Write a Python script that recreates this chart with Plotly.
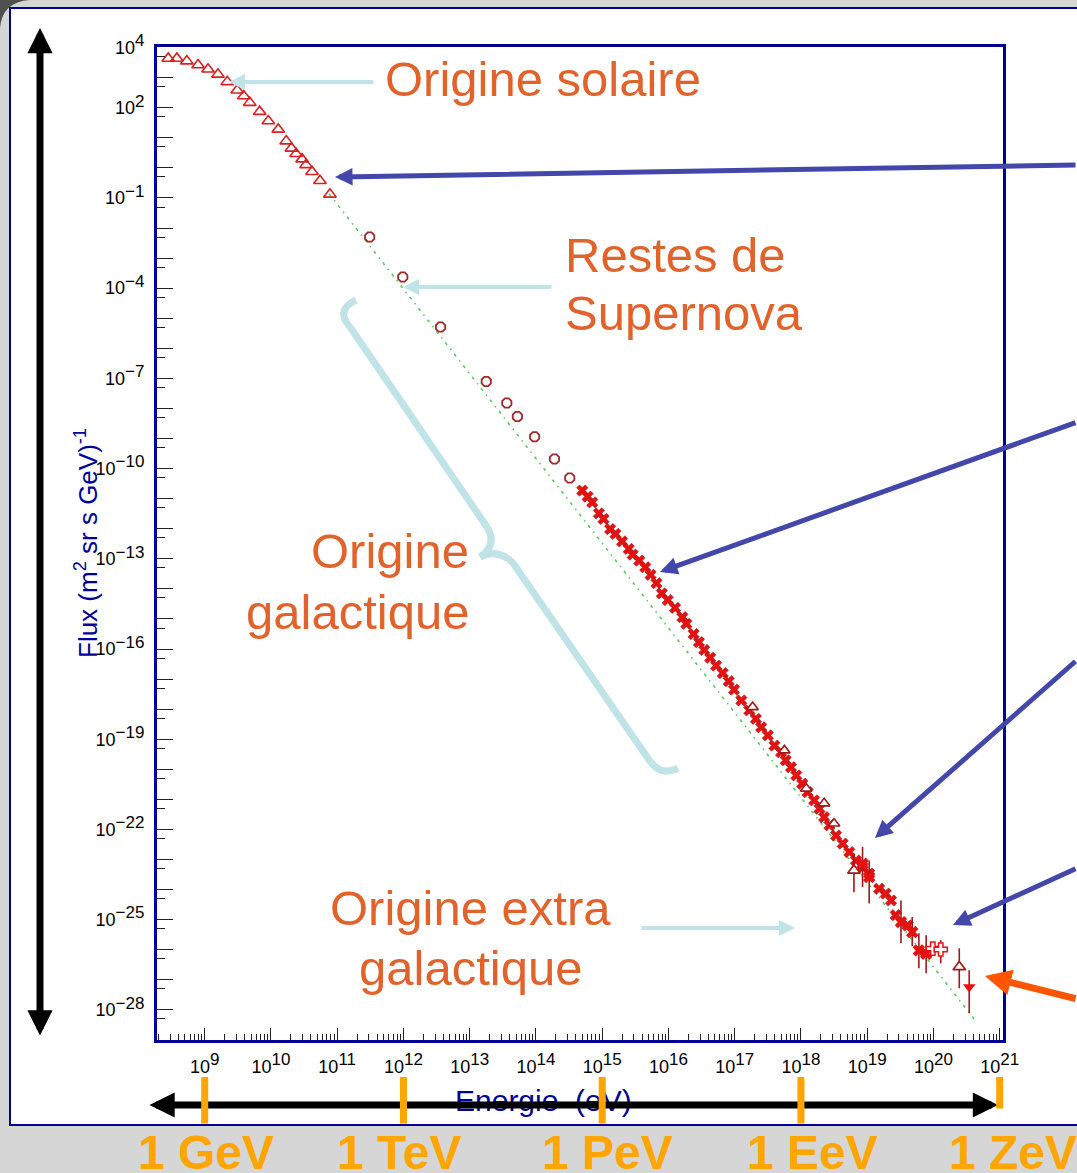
import math
import plotly.graph_objects as go

# ---------------- data (log10 values) ----------------
tri_logE = [8.45, 8.58, 8.73, 8.90, 9.05, 9.20, 9.34, 9.49, 9.59, 9.68, 9.83, 9.96,
            10.11, 10.23, 10.31, 10.38, 10.47, 10.53, 10.62, 10.74, 10.89]
tri_logF = [3.64, 3.64, 3.55, 3.42, 3.28, 3.11, 2.86, 2.58, 2.39, 2.17, 1.87, 1.56,
            1.28, 0.89, 0.65, 0.47, 0.29, 0.10, -0.13, -0.43, -0.88]

dia_logE = [11.49, 11.99, 12.56, 13.25, 13.56, 13.72, 13.98, 14.28, 14.51]
dia_logF = [-2.30, -3.63, -5.29, -7.10, -7.82, -8.27, -8.94, -9.68, -10.31]

ast_logE = [14.70, 14.78, 14.85, 14.95, 15.02, 15.12, 15.20, 15.30, 15.40, 15.46,
            15.56, 15.65, 15.73, 15.82, 15.90, 15.99, 16.10, 16.21, 16.27, 16.38,
            16.46, 16.54, 16.63, 16.72, 16.82, 16.91, 16.99, 17.10, 17.22, 17.32,
            17.40, 17.50, 17.60, 17.70, 17.77, 17.85, 17.93, 18.02, 18.10, 18.20,
            18.28, 18.35, 18.43, 18.53, 18.63, 18.73, 18.83, 18.93, 19.03, 19.18,
            19.28, 19.36, 19.43, 19.61]
ast_logF = [-10.73, -10.93, -11.12, -11.49, -11.67, -12.01, -12.17, -12.42, -12.67, -12.86,
            -13.06, -13.28, -13.53, -13.81, -14.15, -14.37, -14.63, -14.94, -15.16, -15.50,
            -15.77, -16.03, -16.29, -16.55, -16.80, -17.07, -17.35, -17.71, -18.04, -18.32,
            -18.60, -18.87, -19.21, -19.43, -19.70, -19.93, -20.20, -20.48, -20.76, -21.03,
            -21.31, -21.59, -21.86, -22.20, -22.47, -22.75, -23.03, -23.25, -23.47, -23.97,
            -24.13, -24.36, -24.85, -25.19]

band_logE = [17.27, 17.75, 18.08, 18.35, 18.50]
band_logF = [-17.93, -19.37, -20.64, -21.13, -21.80]

eb_logE = [18.93, 19.03, 19.51, 19.68, 19.78, 19.89]
eb_logF = [-23.14, -23.58, -25.08, -25.41, -26.02, -26.13]
eb_top = [-22.58, -23.03, -24.36, -24.91, -25.45, -25.52]
eb_bot = [-23.91, -24.46, -25.78, -25.88, -26.61, -26.78]

otri_logE = [18.80, 20.39]
otri_logF = [-23.36, -26.57]
otri_top = [-22.79, -25.95]
otri_bot = [-24.09, -27.28]

cross_logE = [19.99, 20.11]
cross_logF = [-25.96, -25.99]
cross_top = [-25.96, -25.68]
cross_bot = [-25.96, -26.45]

dtri_logE = [20.54]
dtri_logF = [-27.24]
dtri_top = [-26.68]
dtri_bot = [-28.11]

green_logE = [10.88, 20.65]
green_logF = [-0.87, -28.40]

x_tick_exp = [9, 10, 11, 12, 13, 14, 15, 16, 17, 18, 19, 20, 21]
y_tick_exp = list(range(4, -30, -1))
y_label_exp = [4, 2, -1, -4, -7, -10, -13, -16, -19, -22, -25, -28]

scale_names = ["1 GeV", "1 TeV", "1 PeV", "1 EeV", "1 ZeV"]
scale_E = [1e9, 1e12, 1e15, 1e18, 1e21]

# ---------------- layout helpers ----------------
W, H = 1077, 1173
L, R, T, B = 157, 74, 47, 133
XR = [8.28, 21.05]
YR = [-29.0, 4.02]


def px(x):
    return (x - L) / (W - L - R)


def py(y):
    return (H - B - y) / (H - T - B)


def e2pix(e):
    return L + (math.log10(e) - XR[0]) / (XR[1] - XR[0]) * (W - L - R)


def p10(v):
    return [10.0 ** a for a in v]


def errs(F, top, bot):
    plus = [10.0 ** t - 10.0 ** f for f, t in zip(F, top)]
    minus = [10.0 ** f - 10.0 ** b for f, b in zip(F, bot)]
    return plus, minus


RED = "#e81010"
DARKRED = "#a01818"
NAVY = "#000099"
ORANGE_TXT = "#E2622B"
ORANGE = "#FFA500"
CYAN = "#BFE3E6"
BLUE = "#4347AA"
FONT = "Liberation Sans, Arial, sans-serif"

fig = go.Figure()

fig.add_trace(go.Scatter(x=p10(green_logE), y=p10(green_logF), mode="lines",
                         line=dict(color="#55cc55", width=1.6, dash="3px,5px,1.5px,5px"),
                         hoverinfo="skip"))

fig.add_trace(go.Scatter(x=p10(tri_logE), y=p10(tri_logF), mode="markers",
                         marker=dict(symbol="triangle-up-open", size=11, color="#d82020",
                                     line=dict(width=1.6))))

fig.add_trace(go.Scatter(x=p10(dia_logE), y=p10(dia_logF), mode="markers",
                         marker=dict(symbol="octagon-open", size=10, color="#a02828",
                                     line=dict(width=1.8))))

fig.add_trace(go.Scatter(x=p10(ast_logE), y=p10(ast_logF), mode="markers",
                         marker=dict(symbol="x", size=10, color=RED,
                                     line=dict(width=0.6, color=DARKRED))))

fig.add_trace(go.Scatter(x=p10(band_logE), y=p10(band_logF), mode="markers",
                         marker=dict(symbol="triangle-up", size=10, color="white",
                                     line=dict(width=1.6, color=DARKRED))))

p, m = errs(eb_logF, eb_top, eb_bot)
fig.add_trace(go.Scatter(x=p10(eb_logE), y=p10(eb_logF), mode="markers",
                         marker=dict(symbol="x", size=11, color=RED),
                         error_y=dict(type="data", symmetric=False, array=p, arrayminus=m,
                                      color=DARKRED, thickness=1.6, width=0)))

p, m = errs(otri_logF, otri_top, otri_bot)
fig.add_trace(go.Scatter(x=p10(otri_logE), y=p10(otri_logF), mode="markers",
                         marker=dict(symbol="triangle-up", size=11, color="white",
                                     line=dict(width=1.6, color=DARKRED)),
                         error_y=dict(type="data", symmetric=False, array=p, arrayminus=m,
                                      color=DARKRED, thickness=1.6, width=0)))

p, m = errs(cross_logF, cross_top, cross_bot)
fig.add_trace(go.Scatter(x=p10(cross_logE), y=p10(cross_logF), mode="markers",
                         marker=dict(symbol="cross", size=11, color="white",
                                     line=dict(width=1.5, color=RED)),
                         error_y=dict(type="data", symmetric=False, array=p, arrayminus=m,
                                      color=DARKRED, thickness=1.6, width=0)))

p, m = errs(dtri_logF, dtri_top, dtri_bot)
fig.add_trace(go.Scatter(x=p10(dtri_logE), y=p10(dtri_logF), mode="markers",
                         marker=dict(symbol="triangle-down", size=11, color=RED),
                         error_y=dict(type="data", symmetric=False, array=p, arrayminus=m,
                                      color=DARKRED, thickness=1.6, width=0)))

# ---------------- axes ----------------
x_minor = [float(k) * 10.0 ** e for e in range(8, 22) for k in range(2, 10)]
y_minor = [5.0 * 10.0 ** e for e in range(-30, 5)]


def sup(e):
    return "10<sup><span style='font-size:17px'>%s</span></sup>" % str(e).replace("-", "\u2212")


fig.update_xaxes(type="log", range=XR, showgrid=False, zeroline=False,
                 showline=True, linecolor=NAVY, linewidth=3, mirror=True,
                 ticks="inside", ticklen=12, tickwidth=1.2, tickcolor="#222",
                 tickmode="array", tickvals=[10.0 ** e for e in x_tick_exp],
                 ticktext=[sup(e) for e in x_tick_exp],
                 tickfont=dict(family=FONT, size=18, color="black"),
                 ticklabelstandoff=8,
                 minor=dict(tickmode="array", tickvals=x_minor, ticks="inside",
                            ticklen=6, tickwidth=1, tickcolor="#222"))

fig.update_yaxes(type="log", range=YR, showgrid=False, zeroline=False,
                 showline=True, linecolor=NAVY, linewidth=3, mirror=True,
                 ticks="inside", ticklen=16, tickwidth=1.4, tickcolor="#222",
                 tickmode="array", tickvals=[10.0 ** e for e in y_tick_exp],
                 ticktext=[sup(e) if e in y_label_exp else "" for e in y_tick_exp],
                 tickfont=dict(family=FONT, size=18, color="black"),
                 ticklabelstandoff=6,
                 minor=dict(tickmode="array", tickvals=y_minor, ticks="inside",
                            ticklen=8, tickwidth=1.2, tickcolor="#222"))

# ---------------- decorations ----------------
shapes = []
# white slide panel
shapes.append(dict(type="rect", xref="paper", yref="paper", layer="below",
                   x0=px(10), x1=px(1085), y0=py(1125), y1=py(8),
                   fillcolor="white", line=dict(color=NAVY, width=2)))
# dark top-left corner
shapes.append(dict(type="path", xref="paper", yref="paper", layer="below",
                   path="M %f,%f L %f,%f Q %f,%f %f,%f Z" % (
                       px(0), py(0), px(30), py(0), px(2), py(2), px(0), py(28)),
                   fillcolor="#505050", line=dict(width=0)))
# curly brace
brace = [(356, 300), (335, 310), (350, 327), (487, 527), (498, 545), (480, 557),
         (498, 548), (513, 563), (647, 757), (660, 778), (678, 768)]
P = [(px(a), py(b)) for a, b in brace]
path = "M %f,%f Q %f,%f %f,%f L %f,%f Q %f,%f %f,%f Q %f,%f %f,%f L %f,%f Q %f,%f %f,%f" % tuple(
    v for pt in P for v in pt)
shapes.append(dict(type="path", xref="paper", yref="paper", layer="above",
                   path=path, line=dict(color=CYAN, width=7)))

annotations = []


def arrow(hx, hy, tx, ty, color, width, size, head=2, side="end"):
    annotations.append(dict(xref="paper", yref="paper", x=px(hx), y=py(hy),
                            ax=tx - hx, ay=ty - hy, text="", showarrow=True,
                            arrowhead=head, arrowsize=size, arrowwidth=width,
                            arrowcolor=color, arrowside=side, startarrowhead=head,
                            startarrowsize=size))


def text(x, y, s, size, color, xanchor="center", align="center", bold=False, yanchor="middle",
         angle=0):
    annotations.append(dict(xref="paper", yref="paper", x=px(x), y=py(y), text=s,
                            showarrow=False, xanchor=xanchor, yanchor=yanchor, align=align,
                            textangle=angle,
                            font=dict(family=FONT, size=size, color=color,
                                      weight="bold" if bold else "normal")))


# labels in orange
text(383, 79, "Origine solaire", 49, ORANGE_TXT, xanchor="left", align="left")
text(563, 255, "Restes de", 49, ORANGE_TXT, xanchor="left", align="left")
text(563, 313, "Supernova", 49, ORANGE_TXT, xanchor="left", align="left")
text(471, 551, "Origine", 49, ORANGE_TXT, xanchor="right", align="right")
text(471, 612, "galactique", 49, ORANGE_TXT, xanchor="right", align="right")
text(470, 908, "Origine extra", 49, ORANGE_TXT)
text(470, 968, "galactique", 49, ORANGE_TXT)

# axis titles
text(86, 543, "Flux (m<sup>2</sup> sr s GeV)<sup>-1</sup>", 26, NAVY, angle=-90)
text(543, 1100, "Energie  (eV)", 30, NAVY)

# cyan arrows
arrow(229, 82, 375, 82, CYAN, 4, 0.8)
arrow(403, 287, 553, 287, CYAN, 4, 0.8)
arrow(795, 928, 640, 928, CYAN, 4, 0.8)

# blue arrows
arrow(335, 177, 1085, 165, BLUE, 5, 0.7)
arrow(660, 572, 1085, 422, BLUE, 5, 0.7)
arrow(875, 838, 1085, 660, BLUE, 5, 0.7)
arrow(953, 925, 1085, 868, BLUE, 5, 0.7)
# orange-red arrow
arrow(985, 976, 1085, 999, "#FF5500", 7, 0.75)

# big black double arrows
arrow(40, 28, 40, 1037, "black", 7, 0.72, side="end+start")
arrow(998, 1105, 148, 1105, "black", 7, 0.72, side="end+start")

# orange scale bars and labels
label_x = [206, 399, 607, 812, 1013]
for i, (nm, e) in enumerate(zip(scale_names, scale_E)):
    xb = e2pix(e)
    yb = 1125 if i < 4 else 1110
    arrow(xb, 1077, xb, yb, ORANGE, 7, 1, head=0)
    text(label_x[i], 1152, nm, 48, ORANGE, bold=True)

fig.update_layout(width=W, height=H, margin=dict(l=L, r=R, t=T, b=B),
                  paper_bgcolor="#d6d6d6", plot_bgcolor="white", showlegend=False,
                  shapes=shapes, annotations=annotations)

fig.write_html("out.html")
